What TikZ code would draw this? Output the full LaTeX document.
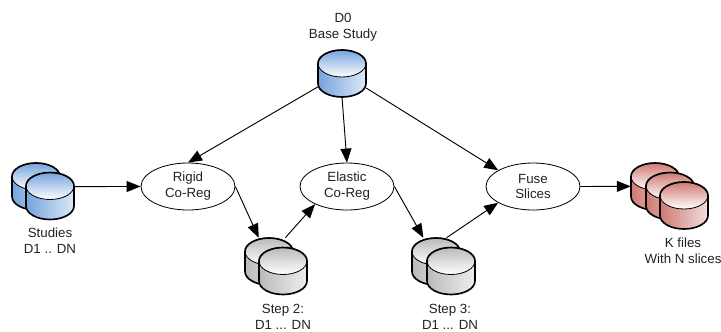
\documentclass[tikz,border=0pt]{standalone}
\usepackage{fontspec}
\setmainfont{Liberation Sans}
\usetikzlibrary{arrows.meta,fit,shapes.geometric}
\definecolor{dbblue}{HTML}{75A4DE}
\definecolor{dbgray}{HTML}{BABABA}
\definecolor{dbred}{HTML}{CF7A72}
\definecolor{txtgray}{HTML}{222222}
\tikzset{
	every node/.style={font=\fontsize{11.35}{13.6}\selectfont, text=txtgray, align=center},
	oper/.style={draw, ellipse, line width=0.7pt, inner sep=0, minimum width=2.82cm, minimum height=1.41cm},
	dbarea/.style={inner sep=0},
	link/.style={line width=0.8pt, -{Triangle[length=4.2mm, width=3.3mm]}},
	dbcyl/.pic={
		\path[left color=#1, right color=#1!25!white]
			(-24, 0) -- (-24, 20) arc[start angle=180, end angle=0, x radius=24, y radius=13.5] -- (24, 0) -- cycle;
		\path[draw, line width=0.7pt, top color=#1, bottom color=white] (0, 0) ellipse[x radius=24, y radius=13.5];
		\draw[line width=1.4pt] (-24, 20) arc[start angle=180, end angle=0, x radius=24, y radius=13.5]
			-- (24, 0) arc[start angle=0, end angle=-180, x radius=24, y radius=13.5] -- cycle;
	}
}
\begin{document}
\begin{tikzpicture}[x=0.03cm, y=-0.03cm]
	\useasboundingbox (0, 0) rectangle (721, 331);

	% cylinders
	\pic at (342, 63.5) {dbcyl=dbblue};
	\foreach \x/\y in {36/176.5, 50/186} \pic at (\x, \y) {dbcyl=dbblue};
	\foreach \x/\y in {269/251.5, 283/261} \pic at (\x, \y) {dbcyl=dbgray};
	\foreach \x/\y in {436/251.5, 451/261} \pic at (\x, \y) {dbcyl=dbgray};
	\foreach \x/\y in {655/176.5, 670/186, 684/195.5} \pic at (\x, \y) {dbcyl=dbred};

	% areas of the cylinders, for the arrows
	\node[dbarea, fit={(318, 50) (366, 97)}] (base) {};
	\node[dbarea, fit={(12, 163) (74, 220)}] (studies) {};
	\node[dbarea, fit={(245, 238) (307, 295)}] (steptwo) {};
	\node[dbarea, fit={(412, 238) (475, 295)}] (stepthree) {};
	\node[dbarea, fit={(631, 163) (708, 229)}] (kfiles) {};

	\node[oper] (rigid) at (188, 186.5) {Rigid\\Co-Reg};
	\node[oper] (elastic) at (347, 186.5) {Elastic\\Co-Reg};
	\node[oper] (fuse) at (533, 186.5) {Fuse\\Slices};

	\node (baselabel) at (343, 27) {D0\\Base Study};
	\node (studieslabel) at (50, 241) {Studies\\D1 .. DN};
	\node (steptwolabel) at (283, 317) {Step 2:\\D1 ... DN};
	\node (stepthreelabel) at (450, 317) {Step 3:\\D1 ... DN};
	\node (kfileslabel) at (683, 251) {K files\\With N slices};

	\draw[link] (studies.9) -- (rigid.west);
	\draw[link] (base.209) -- (rigid.north);
	\draw[link] (base.south) -- (elastic.north);
	\draw[link] (base.-31) -- (fuse.155);
	\draw[link] (rigid.east) -- (steptwo.121);
	\draw[link] (steptwo.72) -- (elastic.209);
	\draw[link] (elastic.east) -- (stepthree.125);
	\draw[link] (stepthree.84) -- (fuse.205);
	\draw[link] (fuse.east) -- (kfiles.166);
\end{tikzpicture}
\end{document}
